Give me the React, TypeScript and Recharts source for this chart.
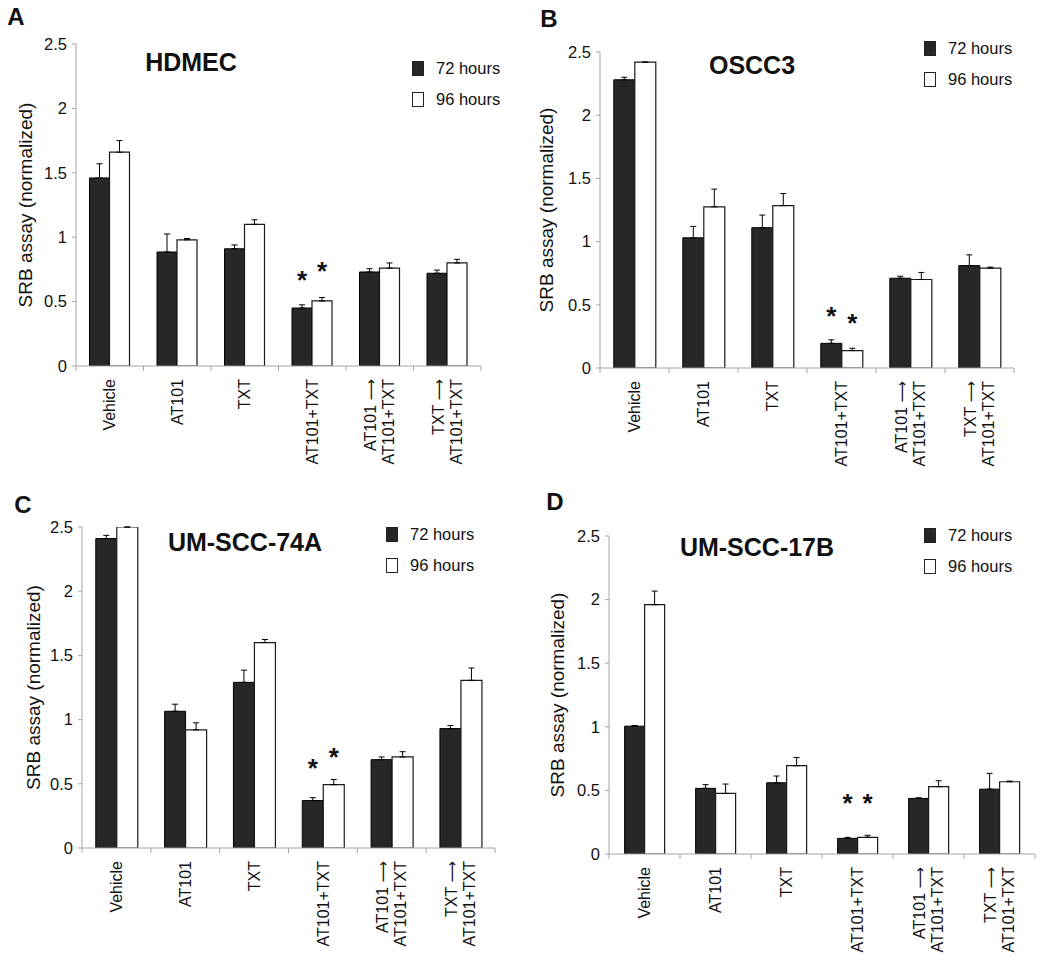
import { BarChart, Bar, XAxis, YAxis, ErrorBar, LabelList, Legend } from 'recharts';

const FONT = "Arial, 'Liberation Sans', Helvetica, sans-serif";
const DARK = '#272727';
const AXIS = '#a6a6a6';

const categories = ['Vehicle', 'AT101', 'TXT', 'AT101+TXT', 'AT101 →\nAT101+TXT', 'TXT →\nAT101+TXT'];
const seriesNames = ['72 hours', '96 hours'];
const yTicks = [0, 0.5, 1, 1.5, 2, 2.5];
const starred = ['AT101+TXT'];

// A - HDMEC
const hdmec72 = [1.46, 0.885, 0.91, 0.45, 0.73, 0.72];
const hdmec96 = [1.66, 0.98, 1.1, 0.505, 0.76, 0.8];
const hdmecErr72 = [0.11, 0.14, 0.03, 0.025, 0.025, 0.025];
const hdmecErr96 = [0.09, 0.01, 0.035, 0.027, 0.04, 0.028];

// B - OSCC3
const oscc72 = [2.28, 1.03, 1.11, 0.195, 0.71, 0.81];
const oscc96 = [2.42, 1.275, 1.285, 0.138, 0.7, 0.79];
const osccErr72 = [0.02, 0.09, 0.1, 0.028, 0.016, 0.085];
const osccErr96 = [0, 0.14, 0.095, 0.018, 0.056, 0.008];

// C - UM-SCC-74A
const scc74_72 = [2.41, 1.065, 1.29, 0.37, 0.688, 0.93];
const scc74_96 = [2.5, 0.92, 1.6, 0.493, 0.709, 1.306];
const scc74Err72 = [0.025, 0.055, 0.095, 0.022, 0.021, 0.024];
const scc74Err96 = [0, 0.055, 0.024, 0.04, 0.041, 0.096];

// D - UM-SCC-17B
const scc17_72 = [1.005, 0.516, 0.56, 0.123, 0.437, 0.51];
const scc17_96 = [1.96, 0.476, 0.694, 0.131, 0.529, 0.568];
const scc17Err72 = [0.005, 0.029, 0.053, 0.008, 0.005, 0.124];
const scc17Err96 = [0.107, 0.074, 0.065, 0.016, 0.047, 0.005];

const buildRows = (v72: number[], v96: number[], e72: number[], e96: number[]) =>
  categories.map((name, i) => ({
    name,
    h72: v72[i],
    h96: v96[i],
    e72: [0, e72[i]],
    e96: [0, e96[i]],
    s72: starred.includes(name) ? e72[i] : null,
    s96: starred.includes(name) ? e96[i] : null,
  }));

const panels = [
  {
    letter: 'A', letterPos: [16, 17], title: 'HDMEC', titlePos: [191, 62],
    rows: buildRows(hdmec72, hdmec96, hdmecErr72, hdmecErr96),
    left: 0, top: 0, yWidth: 76, plotRight: 481, plotTop: 44, plotBottom: 366,
    gap: '20%', legendX: 412, legendY: 68, yLabelX: 25, starOffset: [30, 31],
  },
  {
    letter: 'B', letterPos: [549, 19], title: 'OSCC3', titlePos: [752, 65],
    rows: buildRows(oscc72, oscc96, osccErr72, osccErr96),
    left: 520, top: 0, yWidth: 80, plotRight: 1014, plotTop: 52, plotBottom: 368,
    gap: '20%', legendX: 924, legendY: 48, yLabelX: 546, starOffset: [29, 30],
  },
  {
    letter: 'C', letterPos: [23, 505], title: 'UM-SCC-74A', titlePos: [245, 542],
    rows: buildRows(scc74_72, scc74_96, scc74Err72, scc74Err96),
    left: 0, top: 470, yWidth: 82, plotRight: 495, plotTop: 527, plotBottom: 848,
    gap: '20%', legendX: 386, legendY: 534, yLabelX: 33, starOffset: [35, 28],
  },
  {
    letter: 'D', letterPos: [555, 502], title: 'UM-SCC-17B', titlePos: [757, 547],
    rows: buildRows(scc17_72, scc17_96, scc17Err72, scc17Err96),
    left: 520, top: 470, yWidth: 89, plotRight: 1035, plotTop: 536, plotBottom: 854,
    gap: '22%', legendX: 924, legendY: 535, yLabelX: 557, starOffset: [39, 37],
  },
];

// the arrow in the labels is drawn long, as in the original figure
const renderLine = (l: string) => {
  const parts = l.split('→');
  if (parts.length === 1) return l;
  return (
    <>
      {parts[0]}
      <tspan fontFamily="'DejaVu Sans', sans-serif" fontSize={15}>⟶</tspan>
      {parts[1]}
    </>
  );
};

const CategoryTick = (props: any) => {
  const { x, y, payload, index, band } = props;
  const lines = String(payload.value).split('\n');
  const ty = y + 13;
  return (
    <g>
      <line x1={x - band / 2} y1={y} x2={x - band / 2} y2={y + 5} stroke={AXIS} />
      {index === categories.length - 1 && (
        <line x1={x + band / 2} y1={y} x2={x + band / 2} y2={y + 5} stroke={AXIS} />
      )}
      <text
        transform={`rotate(-90 ${x} ${ty})`}
        x={x}
        y={ty}
        textAnchor="end"
        fontSize={16}
        fontFamily={FONT}
        fill="#111"
      >
        {lines.map((l, i) => (
          <tspan key={i} x={x} y={ty + (i - (lines.length - 1) / 2) * 18 + 5.6}>
            {renderLine(l)}
          </tspan>
        ))}
      </text>
    </g>
  );
};

const LegendBox = () => (
  <div style={{ fontFamily: FONT, fontSize: 16.5, color: '#111' }}>
    {seriesNames.map((name, i) => (
      <div key={name} style={{ display: 'flex', alignItems: 'center', height: 31 }}>
        <span
          style={{
            display: 'inline-block',
            width: 12,
            height: 15,
            boxSizing: 'border-box',
            background: i === 0 ? DARK : '#fff',
            border: '1px solid #222',
            marginRight: 12,
          }}
        />
        <span>{name}</span>
      </div>
    ))}
  </div>
);

function Panel({ p }: { p: (typeof panels)[number] }) {
  const width = p.plotRight - p.left + 12;
  const height = p.plotBottom - p.top + 100;
  const band = (p.plotRight - p.left - p.yWidth) / categories.length;
  const pxPerUnit = (p.plotBottom - p.plotTop) / 2.5;

  const star = (offset: number) => (props: any) => {
    const vb = props.viewBox ?? props;
    const err = props.value;
    if (err === null || err === undefined || err === '') return null;
    const cy = vb.y - Number(err) * pxPerUnit - offset;
    return (
      <text x={vb.x + vb.width / 2} y={cy + 14} textAnchor="middle" fontSize={26} fontWeight="bold" fontFamily={FONT} fill="#111">
        *
      </text>
    );
  };

  return (
    <>
      <div style={{ position: 'absolute', left: p.left, top: p.top }}>
        <BarChart
          width={width}
          height={height}
          data={p.rows}
          margin={{ top: p.plotTop - p.top, right: 12, bottom: 0, left: 0 }}
          barCategoryGap={p.gap}
          barGap={0}
        >
          <XAxis
            dataKey="name"
            type="category"
            height={100}
            interval={0}
            tickSize={0}
            tickMargin={0}
            axisLine={{ stroke: AXIS }}
            tickLine={false}
            tick={(tp: any) => <CategoryTick {...tp} band={band} />}
          />
          <YAxis
            width={p.yWidth}
            domain={[0, 2.5]}
            ticks={yTicks}
            allowDataOverflow
            tickSize={4}
            tickMargin={5}
            axisLine={{ stroke: AXIS }}
            tickLine={{ stroke: AXIS }}
            tick={{ fontSize: 16.5, fontFamily: FONT, fill: '#111' }}
            label={() => (
              <text
                transform={`rotate(-90 ${p.yLabelX - p.left} ${(p.plotTop + p.plotBottom) / 2 - p.top})`}
                x={p.yLabelX - p.left}
                y={(p.plotTop + p.plotBottom) / 2 - p.top}
                textAnchor="middle"
                dominantBaseline="central"
                fontSize={19}
                fontFamily={FONT}
                fill="#111"
              >
                SRB assay (normalized)
              </text>
            )}
          />
          <Legend
            layout="vertical"
            align="center"
            verticalAlign="middle"
            content={LegendBox}
            wrapperStyle={{ left: p.legendX - p.left, top: p.legendY - 15.5 - p.top, width: 120, height: 62 }}
          />
          <Bar dataKey="h72" name={seriesNames[0]} fill={DARK} stroke="#000" strokeWidth={1} isAnimationActive={false}>
            <ErrorBar dataKey="e72" width={3} stroke="#000" strokeWidth={1} />
            <LabelList dataKey="s72" content={star(p.starOffset[0])} />
          </Bar>
          <Bar dataKey="h96" name={seriesNames[1]} fill="#fff" stroke="#1a1a1a" strokeWidth={1.2} isAnimationActive={false}>
            <ErrorBar dataKey="e96" width={3} stroke="#000" strokeWidth={1} />
            <LabelList dataKey="s96" content={star(p.starOffset[1])} />
          </Bar>
        </BarChart>
      </div>
      <div
        style={{
          position: 'absolute', left: p.letterPos[0], top: p.letterPos[1], transform: 'translate(-50%, -50%)',
          fontFamily: FONT, fontWeight: 'bold', fontSize: 24, lineHeight: 1, color: '#111',
        }}
      >
        {p.letter}
      </div>
      <div
        style={{
          position: 'absolute', left: p.titlePos[0], top: p.titlePos[1], transform: 'translate(-50%, -50%)',
          fontFamily: FONT, fontWeight: 'bold', fontSize: 25, lineHeight: 1, color: '#111', whiteSpace: 'nowrap',
        }}
      >
        {p.title}
      </div>
    </>
  );
}

export default function App() {
  return (
    <div style={{ position: 'absolute', left: 0, top: 0, width: 1050, height: 964, background: '#fff', overflow: 'hidden' }}>
      {panels.map((p) => (
        <Panel key={p.letter} p={p} />
      ))}
    </div>
  );
}
